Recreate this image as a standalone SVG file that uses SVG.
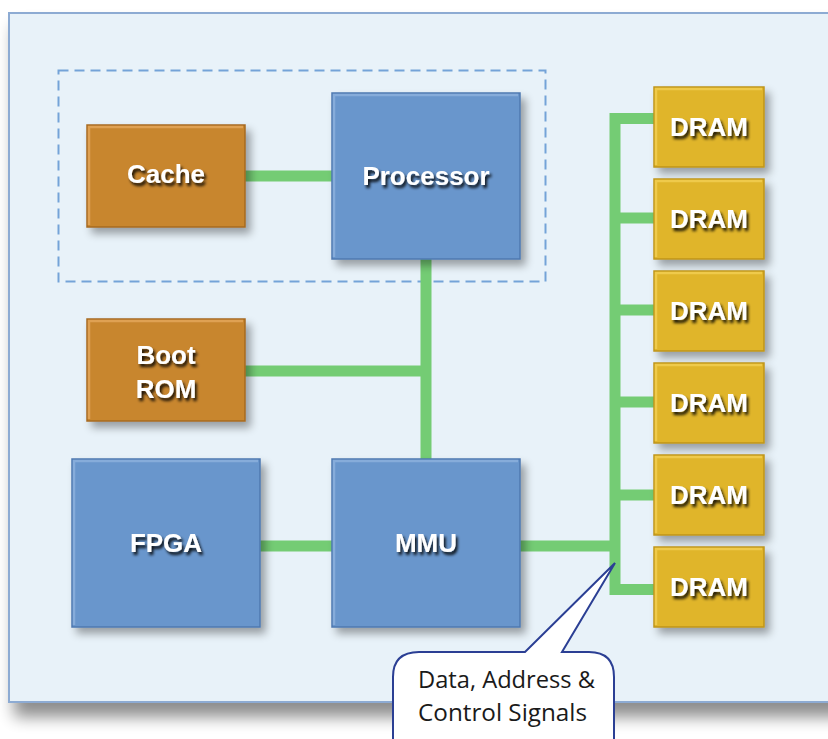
<svg xmlns="http://www.w3.org/2000/svg" width="828" height="739" viewBox="0 0 828 739">
<defs>
<filter id="boxShadow" x="-20%" y="-20%" width="150%" height="150%">
<feGaussianBlur in="SourceAlpha" stdDeviation="4"/>
<feOffset dx="5" dy="6" result="b"/>
<feComponentTransfer><feFuncA type="linear" slope="0.35"/></feComponentTransfer>
<feMerge><feMergeNode/><feMergeNode in="SourceGraphic"/></feMerge>
</filter>
<filter id="outerShadow" x="-10%" y="-10%" width="120%" height="130%">
<feGaussianBlur in="SourceAlpha" stdDeviation="8"/>
<feOffset dx="6" dy="14"/>
<feComponentTransfer><feFuncA type="linear" slope="0.45"/></feComponentTransfer>
<feMerge><feMergeNode/><feMergeNode in="SourceGraphic"/></feMerge>
</filter>
<filter id="textShadow" x="-20%" y="-40%" width="140%" height="180%">
<feGaussianBlur in="SourceAlpha" stdDeviation="1.8"/>
<feOffset dx="1.5" dy="2.5"/>
<feComponentTransfer><feFuncA type="linear" slope="0.9"/></feComponentTransfer>
<feMerge><feMergeNode/><feMergeNode in="SourceGraphic"/></feMerge>
</filter>
</defs>
<style>
.orange{fill:#c8862f;stroke:#a66a22;stroke-width:1.5}
.blue{fill:#6996cc;stroke:#4e78b0;stroke-width:1.5}
.gold{fill:#e0b52a;stroke:#bf951c;stroke-width:1.5}
.hl{fill:none;stroke-width:2.5;opacity:0.7}
.hlo{stroke:#e8ad62}
.hlb{stroke:#93b5e0}
.hlg{stroke:#f5d35a}
.lbl{font-family:"Liberation Sans",Arial,sans-serif;font-weight:bold;font-size:26px;fill:#ffffff;text-anchor:middle}
.conn{stroke:#74cc74;stroke-width:11;fill:none;stroke-linejoin:miter;stroke-linecap:butt}
.note{font-family:"Open Sans","Liberation Sans",sans-serif;font-size:23px;fill:#1a1a1a}
</style>

<rect x="0" y="0" width="828" height="739" fill="#ffffff"/>
<g id="frame">
<rect x="9" y="13" width="840" height="689" fill="#e8f2f9" stroke="#8dabd3" stroke-width="2" filter="url(#outerShadow)"/>
<rect x="58.5" y="70.5" width="487" height="211" fill="none" stroke="#74a3d8" stroke-width="2" stroke-dasharray="10,6"/>
</g>

<g id="connectors">
<line class="conn" x1="245" y1="176" x2="332" y2="176"/>
<line class="conn" x1="426" y1="259" x2="426" y2="459"/>
<line class="conn" x1="245" y1="371" x2="426" y2="371"/>
<line class="conn" x1="260" y1="546" x2="332" y2="546"/>
<line class="conn" x1="520" y1="546" x2="615" y2="546"/>
<path class="conn" d="M654,118.5 H615 V589.5 H654"/>
<line class="conn" x1="615" y1="218" x2="654" y2="218"/>
<line class="conn" x1="615" y1="310" x2="654" y2="310"/>
<line class="conn" x1="615" y1="402" x2="654" y2="402"/>
<line class="conn" x1="615" y1="495" x2="654" y2="495"/>
</g>

<g id="cache" filter="url(#boxShadow)">
<rect class="orange" x="87" y="125" width="158" height="102"/>
<polyline class="hl hlo" points="89,225 89,127 243,127"/>
<text class="lbl" x="166" y="183" filter="url(#textShadow)">Cache</text>
</g>

<g id="processor" filter="url(#boxShadow)">
<rect class="blue" x="332" y="93" width="188" height="166"/>
<polyline class="hl hlb" points="334,257 334,95 518,95"/>
<text class="lbl" x="426" y="185" filter="url(#textShadow)">Processor</text>
</g>

<g id="bootrom" filter="url(#boxShadow)">
<rect class="orange" x="87" y="319" width="158" height="102"/>
<polyline class="hl hlo" points="89,419 89,321 243,321"/>
<text class="lbl" x="166" y="364" filter="url(#textShadow)">Boot</text>
<text class="lbl" x="166" y="398" filter="url(#textShadow)">ROM</text>
</g>

<g id="fpga" filter="url(#boxShadow)">
<rect class="blue" x="72" y="459" width="188" height="168"/>
<polyline class="hl hlb" points="74,625 74,461 258,461"/>
<text class="lbl" x="166" y="552" filter="url(#textShadow)">FPGA</text>
</g>

<g id="mmu" filter="url(#boxShadow)">
<rect class="blue" x="332" y="459" width="188" height="168"/>
<polyline class="hl hlb" points="334,625 334,461 518,461"/>
<text class="lbl" x="426" y="552" filter="url(#textShadow)">MMU</text>
</g>

<g id="dram1" filter="url(#boxShadow)">
<rect class="gold" x="654" y="87" width="110" height="80"/>
<polyline class="hl hlg" points="656,165 656,89 762,89"/>
<text class="lbl" x="709" y="136" filter="url(#textShadow)">DRAM</text>
</g>
<g id="dram2" filter="url(#boxShadow)">
<rect class="gold" x="654" y="179" width="110" height="80"/>
<polyline class="hl hlg" points="656,257 656,181 762,181"/>
<text class="lbl" x="709" y="228" filter="url(#textShadow)">DRAM</text>
</g>
<g id="dram3" filter="url(#boxShadow)">
<rect class="gold" x="654" y="271" width="110" height="80"/>
<polyline class="hl hlg" points="656,349 656,273 762,273"/>
<text class="lbl" x="709" y="320" filter="url(#textShadow)">DRAM</text>
</g>
<g id="dram4" filter="url(#boxShadow)">
<rect class="gold" x="654" y="363" width="110" height="80"/>
<polyline class="hl hlg" points="656,441 656,365 762,365"/>
<text class="lbl" x="709" y="412" filter="url(#textShadow)">DRAM</text>
</g>
<g id="dram5" filter="url(#boxShadow)">
<rect class="gold" x="654" y="455" width="110" height="80"/>
<polyline class="hl hlg" points="656,533 656,457 762,457"/>
<text class="lbl" x="709" y="504" filter="url(#textShadow)">DRAM</text>
</g>
<g id="dram6" filter="url(#boxShadow)">
<rect class="gold" x="654" y="547" width="110" height="80"/>
<polyline class="hl hlg" points="656,625 656,549 762,549"/>
<text class="lbl" x="709" y="596" filter="url(#textShadow)">DRAM</text>
</g>

<g id="callout">
<path d="M419,652 H525 L615,563 L562,652 H589 Q614,652 614,677 V750 H393 V677 Q393,652 419,652 Z" fill="#ffffff" stroke="#2b3f94" stroke-width="2"/>
<text class="note" x="418" y="688" textLength="177" lengthAdjust="spacingAndGlyphs">Data, Address &amp;</text>
<text class="note" x="418" y="721" textLength="169" lengthAdjust="spacingAndGlyphs">Control Signals</text>
</g>
</svg>
